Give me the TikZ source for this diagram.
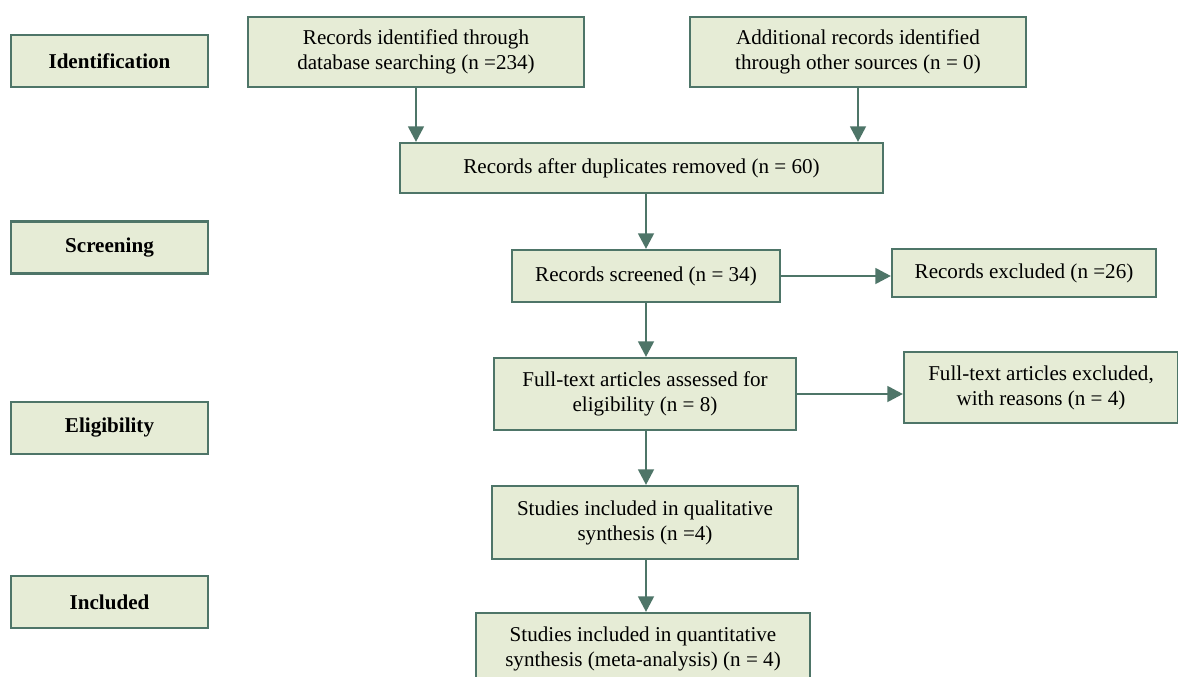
\documentclass[tikz,border=0pt]{standalone}
\usepackage{fontspec}
\setmainfont{Liberation Serif}
\usetikzlibrary{arrows.meta}

\definecolor{boxfill}{HTML}{E6ECD6}
\definecolor{boxline}{HTML}{4E7568}

\begin{document}
\begin{tikzpicture}[x=0.025cm,y=-0.025cm,
        box/.style = {draw=boxline, fill=boxfill, line width=1.5pt, align=center,
                      inner sep=0pt, font=\fontsize{15}{17.8}\selectfont},
        stage/.style = {box, font=\fontsize{15}{17.8}\selectfont\bfseries,
                      minimum width=197*\px, minimum height=52*\px},
        flow/.style = {draw=boxline, line width=2pt,
                      -{Triangle[length=11pt,width=11pt]}}]
        %pixel unit, picture frame
        \def\px{0.025cm}
        \useasboundingbox (0,0) rectangle (1178,677);

        % stage labels on the left
        \node[stage] (ident)  at (109.5,61)  {Identification};
        \node[stage] (screen) at (109.5,247.5) {Screening};
        \node[stage] (elig)   at (109.5,428) {Eligibility};
        \node[stage] (incl)   at (109.5,602) {Included};

        % identification boxes
        \node[box, minimum width=336*\px, minimum height=70*\px] (dbrec) at (416,52)
            {Records identified through\\database searching (n =234)};
        \node[box, minimum width=336*\px, minimum height=70*\px] (other) at (858,52)
            {Additional records identified\\through other sources (n = 0)};
        \node[box, minimum width=483*\px, minimum height=50*\px] (dup) at (641.5,168)
            {Records after duplicates removed (n = 60)};

        % screening
        \node[box, minimum width=268*\px, minimum height=52*\px] (scr) at (646,276)
            {Records screened (n = 34)};
        \node[box, minimum width=264*\px, minimum height=48*\px] (excl) at (1024,273)
            {Records excluded (n =26)};

        % eligibility
        \node[box, minimum width=302*\px, minimum height=72*\px] (full) at (645,394)
            {Full-text articles assessed for\\eligibility (n = 8)};
        \node[box, minimum width=274*\px, minimum height=71*\px] (fullex) at (1041,387.5)
            {Full-text articles excluded,\\with reasons (n = 4)};

        % included
        \node[box, minimum width=306*\px, minimum height=73*\px] (qual) at (645,522.5)
            {Studies included in qualitative\\synthesis (n =4)};
        \node[box, minimum width=334*\px, minimum height=72*\px] (quant) at (643,649)
            {Studies included in quantitative\\synthesis (meta-analysis) (n = 4)};

        %arrows between boxes
        \draw[flow] (dbrec.south) -- (dbrec.south |- dup.north);
        \draw[flow] (other.south) -- (other.south |- dup.north);
        \draw[flow] (scr.north |- dup.south) -- (scr.north);
        \draw[flow] (scr.south) -- (scr.south |- full.north);
        \draw[flow] (scr.east) -- (scr.east -| excl.west);
        \draw[flow] (full.east) -- (full.east -| fullex.west);
        \draw[flow] (scr.south |- full.south) -- (scr.south |- qual.north);
        \draw[flow] (scr.south |- qual.south) -- (scr.south |- quant.north);
\end{tikzpicture}
\end{document}
